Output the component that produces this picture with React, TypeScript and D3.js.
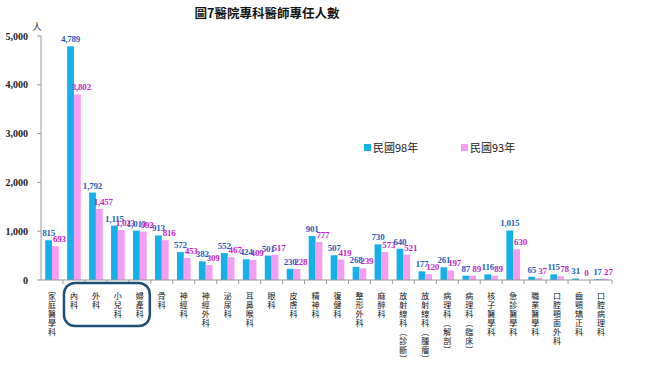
import React from "react";
import * as d3 from "d3";

const categories = [
  "家庭醫學科", "內科", "外科", "小兒科", "婦產科", "骨科", "神經科", "神經外科",
  "泌尿科", "耳鼻喉科", "眼科", "皮膚科", "精神科", "復健科", "整形外科", "麻醉科",
  "放射線科(診斷)", "放射線科(腫瘤)", "病理科(解剖)", "病理科(臨床)", "核子醫學科",
  "急診醫學科", "職業醫學科", "口腔顎面外科", "齒顎矯正科", "口腔病理科",
];
const y98 = [815, 4789, 1792, 1115, 1013, 913, 572, 382, 552, 424, 501, 230, 901, 507, 268, 730, 640, 177, 261, 87, 116, 1015, 65, 115, 31, 17];
const y93 = [693, 3802, 1457, 1023, 992, 816, 453, 309, 467, 409, 517, 228, 777, 419, 239, 573, 521, 120, 197, 89, 89, 630, 37, 78, 0, 27];
const yTicks = [0, 1000, 2000, 3000, 4000, 5000];
const seriesNames = ["民國98年", "民國93年"];

const W = 650;
const H = 366;
const BLUE = "#14b0ea";
const PINK = "#f79cf3";
const BLUE_TXT = "#1f5fc0";
const PINK_TXT = "#c81fc8";
const CJK = "'Noto Sans CJK TC', sans-serif";
const NUM = "'Liberation Serif', 'Times New Roman', serif";

function vChar(c: string) {
  if (c === "(") return "︵";
  if (c === ")") return "︶";
  return c;
}

export default function App() {
  const x = d3.scaleBand().domain(categories).range([41, 612]);
  const y = d3.scaleLinear().domain([0, 5000]).range([280, 36]);
  const bw = 6.8;
  const fmt = d3.format(",");

  const boxX0 = x("內科")! + 1;
  const boxX1 = x("婦產科")! + x.bandwidth() - 1;

  return (
    <svg width={W} height={H} style={{ position: "absolute", left: 0, top: 0, background: "#fff" }}>
      {/* title */}
      <text x={267} y={18} textAnchor="middle" fontFamily={CJK} fontWeight="bold" fontSize={12.5} fill="#111">
        圖7醫院專科醫師專任人數
      </text>
      <text x={37} y={30} textAnchor="middle" fontFamily={CJK} fontSize={9.5} fill="#333">人</text>

      {/* y axis */}
      <line x1={41} x2={41} y1={y(5000)} y2={280} stroke="#999" />
      {yTicks.map((t) => (
        <g key={t}>
          <line x1={37} x2={41} y1={y(t)} y2={y(t)} stroke="#999" />
          <text x={28} y={y(t) + 3.5} textAnchor="end" fontFamily={NUM} fontWeight="bold" fontSize={10} fill="#222">
            {fmt(t)}
          </text>
        </g>
      ))}

      {/* bars */}
      {categories.map((c, i) => {
        const cx = x(c)! + x.bandwidth() / 2;
        return (
          <g key={c}>
            <rect x={cx - bw} y={y(y98[i])} width={bw} height={280 - y(y98[i])} fill={BLUE} />
            <rect x={cx} y={y(y93[i])} width={bw} height={280 - y(y93[i])} fill={PINK} />
            <text x={cx - bw / 2} y={y(y98[i]) - 4} textAnchor="middle" fontFamily={NUM} fontWeight="bold" fontSize={9} fill={BLUE_TXT} letterSpacing={-0.2}>
              {fmt(y98[i])}
            </text>
            <text x={cx + bw / 2 + 4} y={y(y93[i]) - 4} textAnchor="middle" fontFamily={NUM} fontWeight="bold" fontSize={9} fill={PINK_TXT} letterSpacing={-0.2}>
              {fmt(y93[i])}
            </text>
          </g>
        );
      })}

      {/* x axis */}
      <line x1={41} x2={612} y1={280} y2={280} stroke="#999" />
      {categories.map((c) => (
        <line key={c} x1={x(c)! + x.bandwidth()} x2={x(c)! + x.bandwidth()} y1={280} y2={284} stroke="#999" />
      ))}

      {/* category labels, vertical */}
      {categories.map((c) => {
        const cx = x(c)! + x.bandwidth() / 2;
        return (
          <g key={c}>
            {Array.from(c).map((ch, j) => (
              <text key={j} x={cx} y={299 + j * 9} fontFamily={CJK} fontSize={8} fill="#111" textAnchor="middle">
                {vChar(ch)}
              </text>
            ))}
          </g>
        );
      })}

      {/* highlight box */}
      <rect x={boxX0} y={283} width={boxX1 - boxX0} height={43} rx={11} fill="none" stroke="#1f4e79" strokeWidth={2.5} />

      {/* legend */}
      <rect x={364} y={144} width={7} height={7} fill={BLUE} />
      <text x={373} y={152} fontFamily={CJK} fontSize={11} fill="#222">{seriesNames[0]}</text>
      <rect x={461} y={144} width={7} height={7} fill={PINK} />
      <text x={470} y={152} fontFamily={CJK} fontSize={11} fill="#222">{seriesNames[1]}</text>
    </svg>
  );
}
